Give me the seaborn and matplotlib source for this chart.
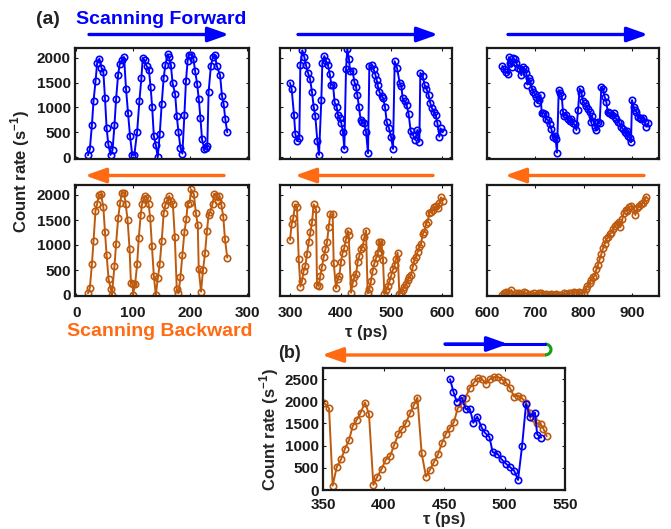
import numpy as np
import matplotlib.pyplot as plt
from matplotlib.patches import FancyArrowPatch, Arc
import seaborn as sns

sns.set_theme(style="ticks")
plt.rcParams['font.family'] = ['Liberation Sans', 'DejaVu Sans']
plt.rcParams['font.weight'] = 'bold'
plt.rcParams['mathtext.fontset'] = 'custom'
plt.rcParams['mathtext.rm'] = 'Liberation Sans:bold'
plt.rcParams['mathtext.bf'] = 'Liberation Sans:bold'

#=========================================================
# Data
#=========================================================
# (a) forward scans, blue
fwd1_t = [20.7, 24, 27.6, 30.5, 34, 36.8, 40.8, 44.3, 47.7, 50.6, 53.4, 56.3, 60.3, 63.8, 67.2, 70, 73.6, 76.4,
          80.5, 84, 87.4, 91, 94.4, 98.3, 102, 106.9, 110.9, 114.4, 116.7, 120, 123.5, 127.6, 130.5, 133.3,
          136.2, 139.7, 143, 146.5, 150, 153.4, 156.3, 160.3, 162.6, 166, 169, 173.6, 176.4, 179.3, 182.8,
          186.2, 189.7, 192.5, 195.4, 197.7, 201.7, 205.7, 208.6, 212, 215, 217.8, 220.7, 224.7, 227, 229.9,
          232.2, 236.2, 239.7, 243.1, 246.6, 252.3, 255.7, 258.6, 261.5, 264.9]
fwd1_c = [40, 160, 640, 1133, 1527, 1893, 1980, 1800, 1713, 1180, 587, 267, 47, 147, 647, 1167, 1660, 1867,
          1947, 2013, 1380, 880, 433, 47, 47, 513, 1133, 1593, 1993, 1947, 1833, 1747, 1413, 1000,
          427, 247, 0, 460, 1073, 1593, 1847, 2067, 2013, 1860, 1493, 1267, 827, 513, 193,
          73, 840, 1533, 1933, 2060, 2060, 1967, 1727, 1480, 1167, 793, 360, 167, 180, 227,
          1313, 1833, 2013, 2047, 1833, 1647, 1227, 1067, 760, 500]

fwd2_t = [299.8, 303, 307.7, 310.3, 313.6, 318.2, 320.2, 324.1, 328.1, 331.4, 335.4, 339.3, 343.2, 346.6,
          349.8, 353.8, 357.1, 361.7, 363.7, 367.7, 371, 374.9, 378.2, 381.5, 384.9, 388, 392, 394.7, 398,
          401.3, 404.5, 407.2, 410.5, 413, 416.4, 418.4, 423.7, 427, 430.3, 432.9, 436.2, 439.5, 442.8,
          446.7, 450, 454, 456.6, 461.2, 465.2, 468.5, 471.1, 473.1, 476.4, 481, 483.7, 487.6, 490.9, 495.5,
          499.5, 503.4, 506.7, 511.3, 516.6, 519.9, 522.5, 526.5, 530.4, 534.4, 538.3, 543, 547.6, 551.5,
          555.5, 557.4, 562, 566, 569.3, 573.9, 577.2, 580.5, 583.8, 587.8, 591, 595, 597.6, 601.6]
fwd2_c = [1493, 1373, 847, 467, 327, 380, 1847, 2147, 2013, 1847, 1693, 1580, 1313, 1013,
          827, 327, 47, 1147, 1893, 2033, 1933, 1847, 1680, 1460, 1447, 1100, 1013, 847, 780,
          680, 500, 167, 1767, 2180, 1967, 1733, 1727, 1513, 1413, 1247, 1000, 747, 713,
          680, 513, 80, 1833, 1847, 1767, 1660, 1547, 1447, 1313, 1227, 1193, 1013, 713, 580,
          413, 167, 1927, 1793, 1493, 1433, 1180, 1127, 1047, 860, 527, 447, 347, 547,
          313, 1693, 1633, 1447, 1380, 1247, 1080, 980, 913, 847, 693, 413, 580, 500]

fwd3_t = [631.7, 635.2, 638.7, 643.5, 645.5, 648.3, 651, 653.8, 657.3, 660.7, 664.2, 667.6, 671, 674.5, 678,
          681.4, 683.5, 686.3, 689.7, 693.2, 695.9, 698.7, 702, 704.2, 707.6, 711, 713.2, 716, 719.4, 722.8,
          726.3, 729.7, 733.2, 736.6, 740, 742, 744.9, 748.4, 751.8, 754.6, 757.3, 760, 764.2, 767.7, 771.1,
          774.6, 778, 781.5, 785, 788.4, 791.8, 795.3, 798.7, 802.2, 805.6, 809, 812.5, 814.6, 817.4, 820.8,
          824.3, 826.3, 829.8, 833.2, 836.7, 840.1, 843.6, 847, 849.8, 852.5, 855.3, 858.8, 862.2, 865,
          867.7, 871.2, 874.6, 877.4, 881.5, 885, 888.4, 889.8, 892.6, 895.3, 898, 900.2, 903.7, 905.7,
          909.1, 912.6, 916, 919.5, 923, 926.4, 929.8, 933.3]
fwd3_c = [1833, 1767, 1713, 1680, 2013, 1900, 1813, 1993, 1967, 1900, 1793, 1780, 1647, 1813, 1780,
          1700, 1460, 1593, 1527, 1380, 1313, 1280, 1213, 1093, 1147, 1247, 880, 893, 867, 767,
          747, 660, 567, 413, 433, 360, 93, 1347, 1300, 1233, 913, 833, 847, 767, 727,
          767, 680, 660, 547, 947, 1380, 1300, 1127, 1080, 1033, 967, 900, 713, 833, 700,
          613, 547, 713, 680, 1413, 1380, 1213, 1113, 913, 880, 893, 847, 880, 813,
          767, 713, 680, 613, 567, 513, 480, 533, 433, 380, 300, 1147, 1013, 947,
          913, 813, 793, 767, 793, 700, 613, 680]

# (a) backward scans, orange
bwd1_t = [20.7, 24.1, 27.6, 30.5, 33.9, 36.8, 39.7, 43.7, 47.7, 50.6, 53.4, 56.9, 60.9, 62.6, 67.2, 70, 73.6,
          77, 79.9, 83.9, 86.8, 90.2, 93.7, 96, 99.4, 99.6, 103.4, 106.9, 109.8, 113.2, 115.5, 118.4, 121.3,
          124.1, 127, 129.9, 132.8, 136.2, 139.7, 143.1, 146.5, 150, 153.4, 156.3, 159.8, 163.2, 166.1, 169.5,
          173, 176.4, 179.3, 182.8, 186.2, 189.7, 193.1, 195.4, 198.8, 201.7, 206.3, 209.8, 213.2, 214.9,
          218.9, 222.4, 225.9, 229.3, 232.2, 235, 239.1, 242, 246, 248.8, 251.1, 254.6, 258, 260.9, 264.9]
bwd1_c = [33, 147, 613, 1080, 1687, 1820, 2000, 2013, 1753, 1253, 800, 313, 113, 0, 580, 1020, 1533,
          1833, 2033, 2047, 1820, 1500, 913, 247, 220, 0, 220, 613, 1147, 1600, 1820, 1913, 1980,
          1933, 1820, 1533, 987, 380, 0, 333, 613, 1087, 1633, 1800, 1900, 1980, 1887, 1820,
          1153, 113, 33, 353, 800, 1253, 1520, 1820, 1847, 2113, 2020, 1647, 1400, 513,
          67, 500, 833, 1287, 1600, 1667, 1820, 2020, 1980, 1887, 1980, 1800, 1553, 1113, 747]

bwd2_t = [299.8, 303, 306.4, 309.7, 313.6, 317, 320.4, 323.5, 326.8, 330.1, 333.4, 336.7, 340, 343.3, 346.6,
          351.2, 353.1, 356.4, 359.7, 363, 366.3, 369.6, 372.9, 376.2, 379.5, 384.1, 386.1, 390.7, 394,
          397.3, 400.6, 403.9, 407.2, 410.5, 413.8, 415.8, 420.4, 423.7, 427, 430.3, 433.6, 436.8, 440.1,
          443.4, 446.7, 450, 453.3, 456.6, 459.9, 463.2, 466.5, 469.8, 473.1, 476.4, 477.7, 480.3, 483.6,
          486.3, 489.6, 493.5, 496.8, 500.1, 503.4, 506.7, 509.3, 512.6, 515.9, 519.2, 522.5, 525.8, 529.1,
          532.4, 535.7, 539, 542.3, 545.6, 548.9, 552.2, 555.5, 558.8, 562.1, 565.4, 568.6, 572, 575.2,
          578.5, 581.8, 585.1, 588.4, 591.7, 595, 598.3, 601.6]
bwd2_c = [1100, 1413, 1547, 1813, 1753, 713, 167, 280, 487, 580, 820, 1053, 1253, 1453, 1813,
          1713, 200, 180, 380, 567, 753, 913, 1053, 1353, 1613, 1613, 647, 133, 313,
          380, 667, 847, 947, 1113, 1287, 1200, 47, 233, 353, 413, 667, 780, 913,
          967, 1153, 1287, 33, 113, 287, 487, 633, 733, 833, 1067, 867, 1067, 700,
          20, 100, 180, 287, 400, 513, 600, 720, 847, 20, 47, 100, 153, 220,
          300, 353, 400, 553, 700, 767, 867, 967, 1020, 1220, 1267, 1420, 1467, 1647,
          1667, 1700, 1753, 1780, 1733, 1847, 1953, 1887]

bwd3_t = [631.7, 635.2, 640, 645.5, 650.4, 655.2, 660.7, 666.2, 671, 675.8, 681.4, 686.9, 691.8, 696.6,
          702.1, 707.6, 712.5, 717.3, 722.8, 727.7, 733.2, 738, 743.5, 749, 753.9, 758.7, 764.2, 769.7,
          774.6, 779.4, 784.9, 790.4, 795.3, 800.1, 804.2, 807.7, 812.5, 815.9, 819.4, 822.9, 826.3, 829.8,
          833.2, 836.7, 840.1, 843.6, 847, 850.5, 853.9, 857.4, 860.8, 865, 869.1, 872.6, 876, 880.1,
          882.9, 887, 889.8, 893.9, 898.8, 903.6, 907.1, 910.5, 914.6, 919.5, 923, 926.4, 929.8]
bwd3_c = [0, 47, 67, 33, 100, 0, 33, 47, 13, 67, 33, 0, 20, 33,
          0, 33, 47, 0, 13, 0, 20, 0, 20, 0, 0, 33, 20, 47,
          33, 67, 47, 67, 33, 47, 113, 180, 233, 300, 353, 380, 513, 600,
          713, 820, 933, 1020, 1113, 1153, 1220, 1247, 1313, 1380, 1420, 1467, 1353, 1513,
          1647, 1700, 1687, 1753, 1780, 1713, 1600, 1733, 1780, 1820, 1847, 1900, 1967]

# (b) round trip
b_bwd_t = [350.8, 355, 358, 361.3, 364.9, 368.2, 371.5, 374.5, 377.8, 381.1, 384.7, 388, 391.6, 394.9,
           398.5, 401.8, 405.4, 408.7, 412.3, 415.6, 418.6, 421.9, 425.2, 428, 431.5, 435.1, 438.4, 441.7,
           445, 448.4, 451.7, 455, 458.3, 461.3, 464.6, 467.9, 471.2, 474.8, 478.1, 481.4, 484.7, 488,
           491.3, 494.9, 498.2, 501.2, 504.6, 507.9, 511.2, 514.5, 517.8, 521.1, 523.8, 527.1, 529.9,
           532.1, 534.9]
b_bwd_c = [1970, 1841, 98, 515, 689, 932, 1121, 1439, 1576, 1742, 1970, 1712, 114, 303,
           477, 682, 758, 1008, 1258, 1386, 1515, 1727, 1917, 2083, 833, 303, 455, 629,
           803, 1061, 1273, 1402, 1538, 1841, 1932, 2083, 2295, 2424, 2523, 2500, 2394, 2500,
           2545, 2545, 2485, 2424, 2295, 2106, 2129, 2068, 1970, 1742, 1614, 1500, 1485,
           1386, 1212]
b_fwd_t = [455, 457.7, 460.5, 464.6, 467.9, 471.5, 474.2, 477.5, 481.1, 483.9, 487.5, 490.2, 494.1, 497.7,
           501.3, 504.6, 507.9, 511.2, 514.5, 517.8, 521.1, 525.2, 527, 530.3]
b_fwd_c = [2500, 2220, 1992, 2083, 1826, 1818, 1515, 1651, 1409, 1288, 1197, 856, 818, 689,
           591, 515, 439, 227, 985, 1939, 1651, 1742, 1250, 1182]

xlims = [(-2, 303), (280, 620), (600, 956)]
xticks = [[0, 100, 200, 300], [300, 400, 500, 600], [600, 700, 800, 900]]
yticks = [0, 500, 1000, 1500, 2000]

#=========================================================
# Figure
#=========================================================
W, H = 671, 529
fig = plt.figure(figsize=(W / 100, H / 100), dpi=100)

BLUE = '#0000FF'
ORANGE = '#BE5A0E'
ARROW_OR = '#FF6A12'
TICKFS = 11


def px_axes(x0, x1, y0, y1):
    # pixel box (image coords, y down) -> axes
    return fig.add_axes([x0 / W, 1 - y1 / H, (x1 - x0) / W, (y1 - y0) / H])


def style(ax, lw=1.6, xpad=5):
    for s in ax.spines.values():
        s.set_linewidth(lw)
        s.set_color('#1a1a1a')
    ax.tick_params(direction='in', top=True, right=True, length=2.5, width=0.8,
                   labelsize=TICKFS, pad=3, colors='#1a1a1a')
    ax.tick_params(axis='x', pad=xpad)


def draw(ax, t, c, color):
    sns.lineplot(x=t, y=c, ax=ax, color=color, sort=False, estimator=None, lw=1.4,
                 marker='o', markersize=4.6, markerfacecolor='none',
                 markeredgecolor=color, markeredgewidth=1.2)


cols = [(75, 249), (280, 452), (487, 659)]
fwd = [(fwd1_t, fwd1_c), (fwd2_t, fwd2_c), (fwd3_t, fwd3_c)]
bwd = [(bwd1_t, bwd1_c), (bwd2_t, bwd2_c), (bwd3_t, bwd3_c)]

for i, (x0, x1) in enumerate(cols):
    # top row - forward
    ax = px_axes(x0, x1, 47.7, 159)
    draw(ax, *fwd[i], BLUE)
    ax.set_xlim(*xlims[i])
    ax.set_ylim(-35, 2200)
    ax.set_xticks(xticks[i])
    ax.set_yticks(yticks)
    ax.set_xticklabels([])
    if i > 0:
        ax.set_yticklabels([])
    style(ax)

    # bottom row - backward
    ax = px_axes(x0, x1, 185, 296)
    draw(ax, *bwd[i], ORANGE)
    ax.set_xlim(*xlims[i])
    ax.set_ylim(-20, 2200)
    ax.set_xticks(xticks[i])
    ax.set_yticks(yticks)
    if i > 0:
        ax.set_yticklabels([])
    style(ax, xpad=7)

# panel (b)
axb = px_axes(323, 565, 368, 490)
draw(axb, b_bwd_t, b_bwd_c, ORANGE)
draw(axb, b_fwd_t, b_fwd_c, BLUE)
axb.set_xlim(350, 550)
axb.set_ylim(0, 2750)
axb.set_xticks([350, 400, 450, 500, 550])
axb.set_yticks([0, 500, 1000, 1500, 2000, 2500])
axb.set_xlabel('τ (ps)', fontsize=12, fontweight='bold', labelpad=0)
axb.set_ylabel(r'Count rate (s$^{\mathbf{-1}}$)', fontsize=12, fontweight='bold', labelpad=3)
style(axb, xpad=6)

#=========================================================
# Text and arrows
#=========================================================
fig.text(36 / W, 1 - 19 / H, '(a)', fontsize=14, fontweight='bold', color='#222222', va='center')
fig.text(76 / W, 1 - 19 / H, 'Scanning Forward', fontsize=14, fontweight='bold', color=BLUE, va='center')
fig.text(160 / W, 1 - 332 / H, 'Scanning Backward', fontsize=14, fontweight='bold', color=ARROW_OR,
         ha='center', va='center')
fig.text(20 / W, 1 - 171 / H, r'Count rate (s$^{\mathbf{-1}}$)', fontsize=12, fontweight='bold',
         rotation=90, ha='center', va='center', color='#222222')
fig.text(366 / W, 1 - 332 / H, 'τ (ps)', fontsize=12, fontweight='bold', ha='center', va='center',
         color='#222222')
fig.text(278 / W, 1 - 353 / H, '(b)', fontsize=13, fontweight='bold', color='#222222', va='center')


def arrow(xa, xb, y, color):
    fig.add_artist(FancyArrowPatch((xa / W, 1 - y / H), (xb / W, 1 - y / H), transform=fig.transFigure,
                                   arrowstyle='-|>,head_length=0.9,head_width=0.32', mutation_scale=14,
                                   lw=2.4, color=color, shrinkA=0, shrinkB=0))


for xa, xb in [(89, 229), (298, 438), (508, 648)]:
    arrow(xa, xb, 34.5, BLUE)
for xa, xb in [(224, 85), (433, 295), (644, 505)]:
    arrow(xa, xb, 175.5, ARROW_OR)

# round trip arrows in (b)
fig.add_artist(plt.Line2D([445 / W, 545 / W], [1 - 344 / H, 1 - 344 / H], transform=fig.transFigure,
                          color=BLUE, lw=2.2))
arrow(445, 508, 344, BLUE)
arrow(545, 322, 355, ARROW_OR)
fig.add_artist(Arc((545 / W, 1 - 349.5 / H), 12 / W, 11 / H, theta1=-90, theta2=90,
                   transform=fig.transFigure, color='#10A010', lw=2.2))

plt.savefig('out.png', dpi=100)
plt.close()
